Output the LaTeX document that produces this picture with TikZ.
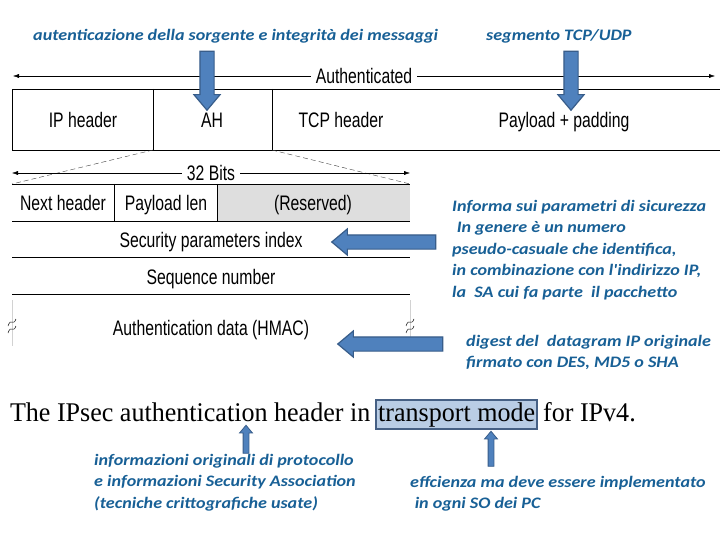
\documentclass[tikz,border=0pt]{standalone}
\usepackage{fontspec}
\setmainfont{Liberation Serif}
\setsansfont{Liberation Sans}
\newfontfamily\notafont{Carlito}
\usetikzlibrary{arrows.meta, positioning, shapes.arrows}

\definecolor{blunota}{RGB}{24,96,150}
\definecolor{frecciaF}{RGB}{79,129,189}
\definecolor{frecciaB}{RGB}{56,93,138}
\definecolor{evidF}{RGB}{185,205,229}
\definecolor{evidB}{RGB}{70,96,132}
\definecolor{grigioR}{RGB}{222,222,222}

\begin{document}
\begin{tikzpicture}[x=1pt, y=-1pt,
  nota/.style={font=\notafont\bfseries\itshape\fontsize{16}{21.5}\selectfont, text=blunota, align=left, inner sep=0pt, xscale=1.13, transform shape, anchor=north west},
  campo/.style={font=\sffamily\fontsize{21}{21}\selectfont, xscale=0.75, transform shape, inner sep=0pt},
  freccia/.style={single arrow, draw=frecciaB, fill=frecciaF, line width=1.2pt, inner sep=6.5pt, single arrow head extend=6pt, single arrow tip angle=80, minimum height=#1, outer sep=0pt},
  frecciaS/.style={freccia=#1, inner sep=2.5pt, single arrow head extend=3.5pt, line width=0.8pt},
  quota/.style={{Latex[length=6pt,width=4pt]}-{Latex[length=6pt,width=4pt]}},
  didascalia/.style={font=\fontsize{27}{27}\selectfont, xscale=0.965, transform shape, inner sep=0pt, outer sep=0pt, anchor=base west}
]
\useasboundingbox[fill=white] (0,0) rectangle (720,540);

% pacchetto IP in transport mode
\coordinate (pkNW) at (12,89);
\coordinate (pkNE) at (720,89);
\coordinate (pkSW) at (12,150);
\coordinate (pkSE) at (720,150);
\coordinate (ahNW) at (153,89);
\coordinate (ahSW) at (153,150);
\coordinate (ahNE) at (272,89);
\coordinate (ahSE) at (272,150);
\draw (pkNE) -- (pkNW) -- (pkSW) -- (pkSE);
\draw (ahNW) -- (ahSW);
\draw (ahNE) -- (ahSE);
\node[campo, anchor=base] (iph) at (83,128) {IP header};
\node[campo, anchor=base] (ah) at (212,128) {AH};
\node[campo, anchor=base] (tcph) at (341,128) {TCP header};
\node[campo, anchor=base] (payl) at (564,128) {Payload + padding};

% Authenticated
\coordinate (autL) at (13,76);
\coordinate (autR) at (715,76);
\draw[quota] (autL) -- node[campo, fill=white, inner xsep=6pt, pos=0.5] (aut) {Authenticated} (autR);

% header AH
\coordinate (ahtNW) at (12,184);
\coordinate (ahtNE) at (410,184);
\draw[dash pattern=on 5pt off 3pt, black!75] (ahSW) -- (ahtNW);
\draw[dash pattern=on 5pt off 3pt, black!75] (ahSE) -- (ahtNE);
\fill[grigioR] (217,184) rectangle (410,221);
\foreach \ry in {184,221,257,294}
  \draw (12,\ry) -- (410,\ry);
\draw (114,184) -- (114,221);
\draw (217,184) -- (217,221);
\draw[quota] (12,173) -- node[campo, fill=white, inner xsep=6pt] (bit) {32 Bits} (410,173);
\node[campo, anchor=base] (nh) at (63,210.5) {Next header};
\node[campo, anchor=base] (pl) at (166,210.5) {Payload len};
\node[campo, anchor=base] (res) at (313,210.5) {(Reserved)};
\node[campo, anchor=base] (spi) at (211,247.5) {Security parameters index};
\node[campo, anchor=base] (seq) at (211,284.5) {Sequence number};
\node[campo, anchor=base] (hmac) at (211,335.5) {Authentication data (HMAC)};
% segni di interruzione
\foreach \bx in {12,410} {
  \draw[gray!35] (\bx,300) -- (\bx,346);
  \draw[line width=0.5pt] (\bx-4,326) .. controls (\bx-1,317) and (\bx+1,327) .. (\bx+4,319);
  \draw[line width=0.5pt] (\bx-4,333) .. controls (\bx-1,324) and (\bx+1,334) .. (\bx+4,326);
}

% didascalia
\node[didascalia] (cap1) at (10,421) {The IPsec authentication header in};
\node[didascalia, draw=evidB, fill=evidF, line width=2pt, inner xsep=2pt, inner ysep=2.5pt] (tm)
  at ([xshift=6pt]cap1.base east) {transport mode};
\node[didascalia] (cap2) at ([xshift=6pt]tm.base east) {for IPv4.};

% note
\node[nota, anchor=west] (nAut) at (33,36) {autenticazione della sorgente e integrità dei messaggi};
\node[nota, anchor=west] (nSeg) at (486,36) {segmento TCP/UDP};
\node[nota] (nSpi) at (452,200) {Informa sui parametri di sicurezza\\\hspace{4pt}In genere è un numero\\pseudo-casuale che identifica,\\in combinazione con l'indirizzo IP,\\la\ \ SA cui fa parte\ \ il pacchetto};
\node[nota] (nHmac) at (466,335) {digest del\ \ datagram IP originale\\firmato con DES, MD5 o SHA};
\node[nota] (nOrig) at (94,454) {informazioni originali di protocollo\\e informazioni Security Association\\(tecniche crittografiche usate)};
\node[nota] (nEff) at (410,476) {effcienza ma deve essere implementato\\\hspace{4pt}in ogni SO dei PC};

% frecce
\node[freccia=59, rotate=-90] (fAh) at (207,76.5) {};
\node[freccia=59, rotate=-90] (fPay) at (571,76.5) {};
\node[freccia=104, rotate=180] (fSpi) at (388,242) {};
\node[freccia=105, rotate=180] (fHmac) at (394.5,344) {};
\node[frecciaS=28, rotate=90] (fOrig) at (246,441) {};
\node[frecciaS=35, rotate=90] (fEff) at (491,450.5) {};
\end{tikzpicture}
\end{document}
